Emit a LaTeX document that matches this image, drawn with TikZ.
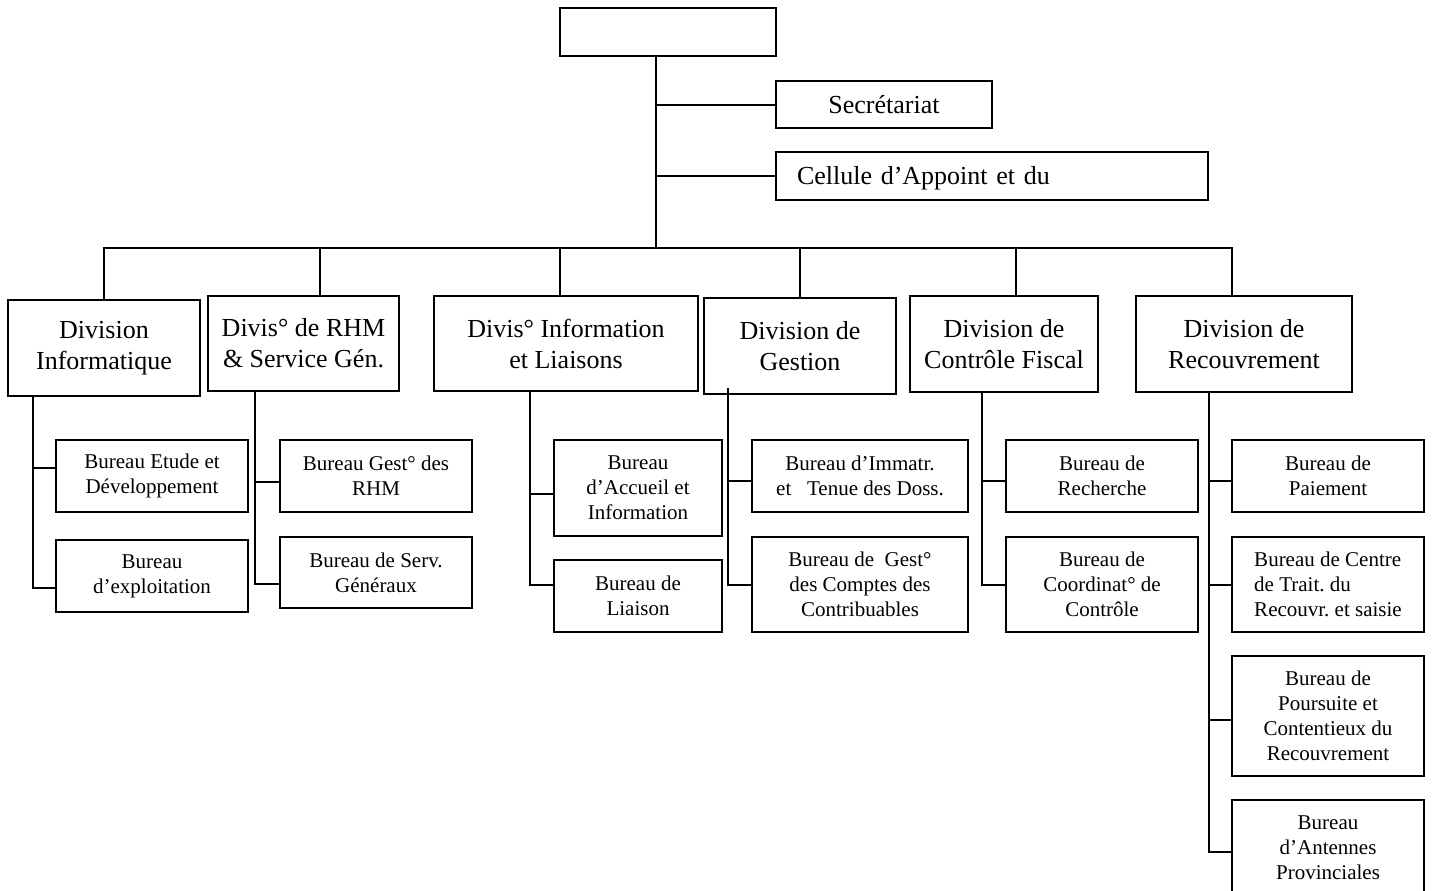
\documentclass[tikz,border=0pt]{standalone}
\usepackage{fontspec}
\setmainfont{Liberation Serif}
\frenchspacing
\tikzset{%
    every node/.style={draw, line width=1pt, align=center, inner sep=0pt},
    divbox/.style={font=\fontsize{13}{15.5}\selectfont},
    burbox/.style={font=\fontsize{10.5}{12.5}\selectfont},
    topbox/.style={font=\fontsize{13}{15.5}\selectfont}
}
\begin{document}
\begin{tikzpicture}[x=0.5pt, y=-0.5pt, line width=1pt]
  \useasboundingbox (0,0) rectangle (1434,890);
  % direction
  \node (top) [minimum width=108pt, minimum height=24pt] at (668,32) {};
  \node (sec) [topbox, minimum width=108pt, minimum height=23.5pt] at (884,104.5) {Secrétariat};
  \node (cel) [topbox, minimum width=216pt, minimum height=24pt, text width=195pt,
    inner xsep=10.5pt, align=left, text depth=1pt] at (992,176) {Cellule d’Appoint et du};

  % divisions
  \node (d1) [divbox, minimum width=96pt, minimum height=48pt] at (104,348) {Division\\Informatique};
  \node (d2) [divbox, minimum width=95.5pt, minimum height=47.5pt] at (303.5,343.5) {Divis° de RHM\\\& Service Gén.};
  \node (d3) [divbox, minimum width=132pt, minimum height=47.5pt] at (566,343.5) {Divis° Information\\et Liaisons};
  \node (d4) [divbox, minimum width=96pt, minimum height=48pt] at (800,346) {Division de\\Gestion};
  \node (d5) [divbox, minimum width=94pt, minimum height=48pt] at (1004,344) {Division de\\Contrôle Fiscal};
  \node (d6) [divbox, minimum width=108pt, minimum height=48pt] at (1244,344) {Division de\\Recouvrement};

  % bureaux
  \node (b11) [burbox, minimum width=96pt, minimum height=36pt] at (152,476) {Bureau Etude et\\Développement};
  \node (b12) [burbox, minimum width=96pt, minimum height=36pt] at (152,576) {Bureau\\d’exploitation};
  \node (b21) [burbox, minimum width=96pt, minimum height=36pt] at (376,476) {Bureau Gest° des\\RHM};
  \node (b22) [burbox, minimum width=96pt, minimum height=35.5pt] at (376,572.5) {Bureau de Serv.\\Généraux};
  \node (b31) [burbox, minimum width=84pt, minimum height=48pt] at (638,488) {Bureau\\d’Accueil et\\Information};
  \node (b32) [burbox, minimum width=84pt, minimum height=36pt] at (638,596) {Bureau de\\Liaison};
  \node (b41) [burbox, minimum width=108pt, minimum height=36pt] at (860,476) {Bureau d’Immatr.\\et\ \ \ Tenue des Doss.};
  \node (b42) [burbox, minimum width=108pt, minimum height=47.5pt] at (860,584.5) {Bureau de\ \ Gest°\\des Comptes des\\Contribuables};
  \node (b51) [burbox, minimum width=96pt, minimum height=36pt] at (1102,476) {Bureau de\\Recherche};
  \node (b52) [burbox, minimum width=96pt, minimum height=47.5pt] at (1102,584.5) {Bureau de\\Coordinat° de\\Contrôle};
  \node (b61) [burbox, minimum width=96pt, minimum height=36pt] at (1328,476) {Bureau de\\Paiement};
  \node (b62) [burbox, minimum width=96pt, minimum height=47.5pt, align=left] at (1328,584.5) {Bureau de Centre\\de Trait. du\\Recouvr. et saisie};
  \node (b63) [burbox, minimum width=96pt, minimum height=60pt] at (1328,716) {Bureau de\\Poursuite et\\Contentieux du\\Recouvrement};
  \node (b64) [burbox, minimum width=96pt, minimum height=48pt] at (1328,848) {Bureau\\d’Antennes\\Provinciales};

  \coordinate (trunk) at ([xshift=-6pt]top.south);
  \coordinate (bus) at (656,248);
  \coordinate (s1) at (33,396);
  \coordinate (s2) at (255,391);
  \coordinate (s3) at (530,391);
  \coordinate (s4) at (728,388);
  \coordinate (s5) at (982,392);
  \coordinate (s6) at (1209,392);

  \draw (trunk) -- (bus);
  \draw (trunk |- sec.west) -- (sec.west);
  \draw (trunk |- cel.west) -- (cel.west);
  \draw (d1.north) |- (bus) -| ([xshift=-6pt]d6.north);
  \draw ([xshift=8pt]d2.north) -- ([xshift=8pt]d2.north |- bus);
  \draw ([xshift=-3pt]d3.north) -- ([xshift=-3pt]d3.north |- bus);
  \draw (d4.north) -- (d4.north |- bus);
  \draw ([xshift=6pt]d5.north) -- ([xshift=6pt]d5.north |- bus);

  \draw (s1) |- ([yshift=4pt]b11.west);
  \draw (s1) |- ([yshift=-6pt]b12.west);
  \draw (s2) |- ([yshift=-3pt]b21.west);
  \draw (s2) |- ([yshift=-5.75pt]b22.west);
  \draw (s3) |- ([yshift=-3pt]b31.west);
  \draw (s3) |- ([yshift=5.5pt]b32.west);
  \draw (s4) |- ([yshift=-2.5pt]b41.west);
  \draw (s4) |- (b42.west);
  \draw (s5) |- ([yshift=-2.5pt]b51.west);
  \draw (s5) |- (b52.west);
  \draw (s6) |- ([yshift=-2.5pt]b61.west);
  \draw (s6) |- (b62.west);
  \draw (s6) |- ([yshift=-2pt]b63.west);
  \draw (s6) |- ([yshift=-2pt]b64.west);
\end{tikzpicture}
\end{document}
